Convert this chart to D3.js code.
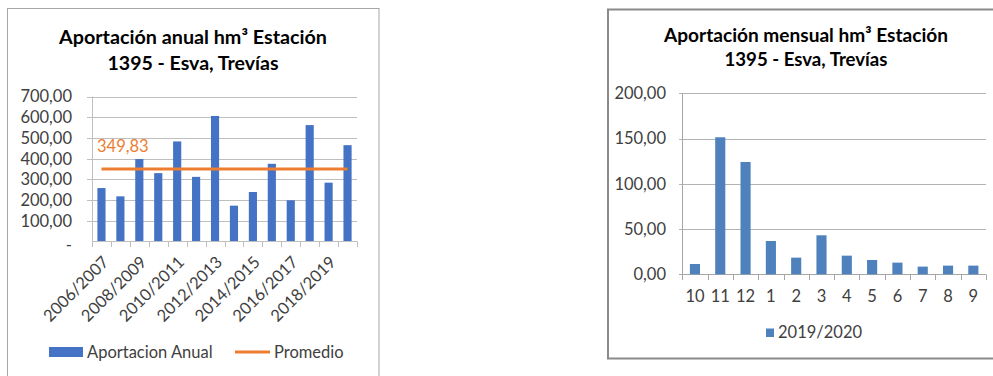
<!DOCTYPE html>
<html>
<head>
<meta charset="utf-8">
<script src="https://cdn.jsdelivr.net/npm/d3@7/dist/d3.min.js"></script>
<style>
  html, body { margin: 0; padding: 0; background: #fff; }
  svg { display: block; font-family: Lato, "Open Sans", sans-serif; }
</style>
</head>
<body>
<svg id="chart" width="993" height="376"></svg>
<script>
// Annual inflow per hydrological year (hm³), station 1395 - Esva, Trevías
const years = ["2006/2007", "2007/2008", "2008/2009", "2009/2010", "2010/2011", "2011/2012", "2012/2013",
               "2013/2014", "2014/2015", "2015/2016", "2016/2017", "2017/2018", "2018/2019", "2019/2020"];
const aportacionAnual = [258, 218, 398, 330, 483, 312, 606, 173, 239, 375, 199, 562, 284, 465];
const promedio = 349.83;
const annualTicks = [0, 100, 200, 300, 400, 500, 600, 700];

// Monthly inflow for 2019/2020 (hm³), hydrological months October..September
const meses = ["10", "11", "12", "1", "2", "3", "4", "5", "6", "7", "8", "9"];
const aportacionMensual = [11.4, 151.4, 124.1, 36.8, 18.4, 43.1, 20.6, 15.8, 12.9, 8.5, 9.6, 9.6];
const monthlyTicks = [0, 50, 100, 150, 200];

const locale = d3.formatLocale({ decimal: ",", thousands: ".", grouping: [3], currency: ["", " €"] });
const fmt2 = locale.format(".2f");

const svg = d3.select("#chart");
const textColor = "#404040";
const labelSize = 16.5;

// ---------- Annual chart ----------
(function () {
  const g = svg.append("g");
  g.append("rect")
    .attr("x", 7.5).attr("y", 8.5).attr("width", 371.5).attr("height", 400)
    .attr("fill", "#fff").attr("stroke", "#a6a6a6").attr("stroke-width", 1);

  g.append("text").attr("x", 193).attr("y", 44)
    .attr("text-anchor", "middle").attr("font-size", 19.5).attr("font-weight", 700)
    .attr("fill", "#000").attr("textLength", 268).attr("lengthAdjust", "spacingAndGlyphs")
    .text("Aportación anual hm³ Estación");
  g.append("text").attr("x", 193).attr("y", 70)
    .attr("text-anchor", "middle").attr("font-size", 19.5).attr("font-weight", 700)
    .attr("fill", "#000").attr("textLength", 171).attr("lengthAdjust", "spacingAndGlyphs")
    .text("1395 - Esva, Trevías");

  const x = d3.scaleBand().domain(years).range([92, 357]).padding(0);
  const y = d3.scaleLinear().domain([0, 700]).range([241.5, 96.5]);
  const barW = x.bandwidth() * 0.43;

  // gridlines with left ticks
  g.append("g").selectAll("line").data(annualTicks.filter(d => d > 0)).join("line")
    .attr("x1", 87).attr("x2", 357)
    .attr("y1", d => Math.round(y(d)) + 0.5).attr("y2", d => Math.round(y(d)) + 0.5)
    .attr("stroke", "#bfbfbf").attr("stroke-width", 1);

  // vertical axis
  g.append("line").attr("x1", 92.5).attr("x2", 92.5).attr("y1", y(700)).attr("y2", y(0))
    .attr("stroke", "#bfbfbf");

  // y tick labels
  g.append("g").selectAll("text").data(annualTicks).join("text")
    .attr("x", 72).attr("y", d => y(d)).attr("dy", d => d === 0 ? "0.55em" : "0.36em")
    .attr("text-anchor", "end").attr("font-size", labelSize).attr("fill", textColor)
    .text(d => d === 0 ? "-" : fmt2(d));

  // bars
  g.append("g").selectAll("rect").data(aportacionAnual).join("rect")
    .attr("x", (d, i) => x(years[i]) + (x.bandwidth() - barW) / 2)
    .attr("width", barW)
    .attr("y", d => y(d))
    .attr("height", d => y(0) - y(d))
    .attr("fill", "#4472c4");

  // x axis with ticks at band boundaries
  g.append("line").attr("x1", 92).attr("x2", 357).attr("y1", 241.5).attr("y2", 241.5)
    .attr("stroke", "#bfbfbf");
  const bounds = years.map(d => x(d)).concat([x.range()[1]]);
  g.append("g").selectAll("line").data(bounds).join("line")
    .attr("x1", d => Math.round(d) + 0.5).attr("x2", d => Math.round(d) + 0.5)
    .attr("y1", 241.5).attr("y2", 247)
    .attr("stroke", "#bfbfbf");

  // rotated category labels (every other year)
  g.append("g").selectAll("text").data(years.filter((d, i) => i % 2 === 0)).join("text")
    .attr("transform", d => `translate(${x(d) + x.bandwidth() / 2 + 4},${259}) rotate(-45)`)
    .attr("text-anchor", "end").attr("dy", "0.36em")
    .attr("font-size", labelSize).attr("fill", textColor)
    .text(d => d);

  // average line
  g.append("line")
    .attr("x1", x(years[0]) + x.bandwidth() / 2)
    .attr("x2", x(years[years.length - 1]) + x.bandwidth() / 2)
    .attr("y1", y(promedio)).attr("y2", y(promedio))
    .attr("stroke", "#ed7d31").attr("stroke-width", 3);
  g.append("text").attr("x", 97).attr("y", 152.3)
    .attr("font-size", 16.5).attr("fill", "#ed7d31")
    .text(fmt2(promedio));

  // legend
  g.append("rect").attr("x", 49).attr("y", 347).attr("width", 34).attr("height", 10)
    .attr("fill", "#4472c4");
  g.append("text").attr("x", 87).attr("y", 352).attr("dy", "0.36em")
    .attr("font-size", labelSize).attr("fill", textColor).text("Aportacion Anual");
  g.append("line").attr("x1", 235).attr("x2", 270).attr("y1", 352).attr("y2", 352)
    .attr("stroke", "#ed7d31").attr("stroke-width", 3);
  g.append("text").attr("x", 274).attr("y", 352).attr("dy", "0.36em")
    .attr("font-size", labelSize).attr("fill", textColor).text("Promedio");
})();

// ---------- Monthly chart ----------
(function () {
  const g = svg.append("g");
  g.append("rect")
    .attr("x", 608).attr("y", 9.5).attr("width", 420).attr("height", 349)
    .attr("fill", "#fff").attr("stroke", "#8a8a8a").attr("stroke-width", 2);

  g.append("text").attr("x", 806).attr("y", 41.5)
    .attr("text-anchor", "middle").attr("font-size", 18.5).attr("font-weight", 700)
    .attr("fill", "#000").attr("textLength", 284).attr("lengthAdjust", "spacingAndGlyphs")
    .text("Aportación mensual hm³ Estación");
  g.append("text").attr("x", 806).attr("y", 66)
    .attr("text-anchor", "middle").attr("font-size", 18.5).attr("font-weight", 700)
    .attr("fill", "#000").attr("textLength", 163).attr("lengthAdjust", "spacingAndGlyphs")
    .text("1395 - Esva, Trevías");

  const x = d3.scaleBand().domain(meses).range([682.3, 986]).padding(0);
  const y = d3.scaleLinear().domain([0, 200]).range([274.3, 93.3]);
  const barW = x.bandwidth() * 0.4;

  g.append("g").selectAll("line").data(monthlyTicks).join("line")
    .attr("x1", 679).attr("x2", 986)
    .attr("y1", d => Math.round(y(d)) + 0.5).attr("y2", d => Math.round(y(d)) + 0.5)
    .attr("stroke", d => d === 0 ? "#a6a6a6" : "#b3b3b3").attr("stroke-width", 1);

  g.append("line").attr("x1", 682.5).attr("x2", 682.5).attr("y1", y(200)).attr("y2", y(0))
    .attr("stroke", "#a6a6a6");

  g.append("g").selectAll("text").data(monthlyTicks).join("text")
    .attr("x", 666).attr("y", d => y(d)).attr("dy", "0.36em")
    .attr("text-anchor", "end").attr("font-size", labelSize).attr("fill", textColor)
    .text(d => fmt2(d));

  g.append("g").selectAll("rect").data(aportacionMensual).join("rect")
    .attr("x", (d, i) => x(meses[i]) + (x.bandwidth() - barW) / 2)
    .attr("width", barW)
    .attr("y", d => y(d))
    .attr("height", d => y(0) - y(d))
    .attr("fill", "#4f81bd");

  const bounds = meses.map(d => x(d)).concat([x.range()[1]]);
  g.append("g").selectAll("line").data(bounds).join("line")
    .attr("x1", d => Math.round(d) + 0.5).attr("x2", d => Math.round(d) + 0.5)
    .attr("y1", 274.5).attr("y2", 280)
    .attr("stroke", "#a6a6a6");

  g.append("g").selectAll("text").data(meses).join("text")
    .attr("x", d => x(d) + x.bandwidth() / 2).attr("y", 296).attr("dy", "0.36em")
    .attr("text-anchor", "middle").attr("font-size", labelSize).attr("fill", textColor)
    .text(d => d);

  // legend
  g.append("rect").attr("x", 766).attr("y", 328.5).attr("width", 8).attr("height", 8.5)
    .attr("fill", "#4f81bd");
  g.append("text").attr("x", 778).attr("y", 332.5).attr("dy", "0.36em")
    .attr("font-size", labelSize).attr("fill", textColor).text("2019/2020");
})();
</script>
</body>
</html>
